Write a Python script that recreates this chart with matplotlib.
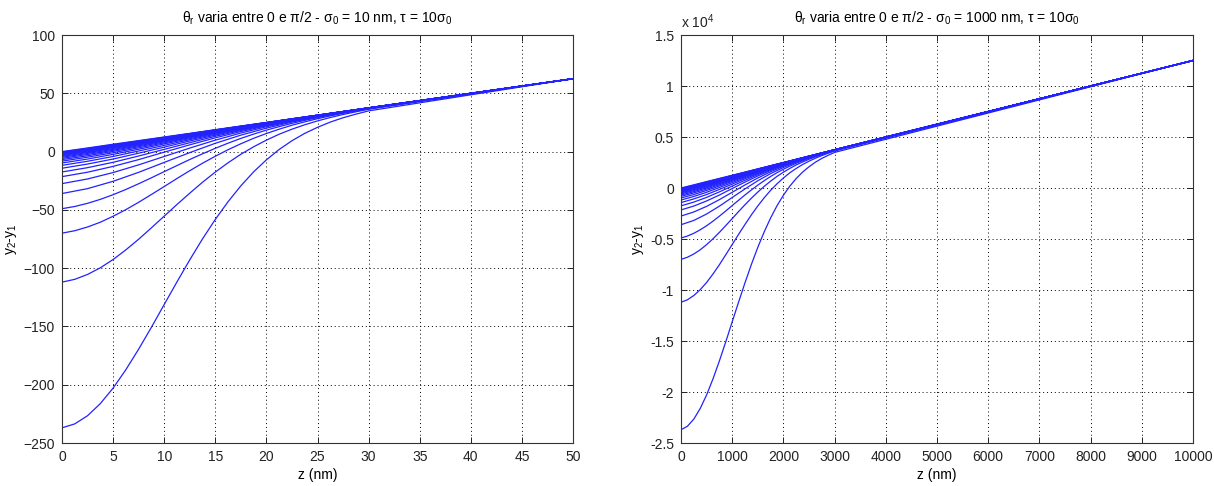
import matplotlib.pyplot as plt

plt.rcParams['font.family'] = ['Liberation Sans', 'DejaVu Sans']
plt.rcParams['mathtext.fontset'] = 'custom'
plt.rcParams['mathtext.rm'] = 'Liberation Sans'
plt.rcParams['mathtext.it'] = 'Liberation Sans:italic'

# left panel: sigma0 = 10 nm, z in nm
# the four deepest curves, read on a finer z step
z_left_fine = [0, 1.25, 2.5, 3.75, 5, 6.25, 7.5, 8.75, 10, 11.25, 12.5, 13.75, 15,
               16.25, 17.5, 18.75, 20, 21.25, 22.5, 23.75, 25, 26.25, 27.5, 28.75, 30, 50]
y_left_fine = [
    [-237.0, -233.6, -226.6, -216.2, -202.9, -187.1, -169.5, -150.7, -131.2, -111.8, -92.9, -74.9, -58.2,
     -43.0, -29.4, -17.4, -7.1, 1.8, 9.3, 15.6, 20.8, 25.3, 29.0, 32.1, 34.9, 62.5],
    [-112.0, -109.6, -105.4, -99.7, -92.6, -84.3, -75.2, -65.4, -55.4, -45.4, -35.7, -26.3, -17.6,
     -9.6, -2.3, 4.1, 9.8, 14.9, 19.2, 23.0, 26.3, 29.2, 31.8, 34.1, 36.3, 62.5],
    [-70.0, -67.9, -64.7, -60.6, -55.5, -49.8, -43.5, -36.8, -30.0, -23.1, -16.4, -10.0, -4.0,
     1.6, 6.7, 11.4, 15.5, 19.2, 22.6, 25.5, 28.2, 30.6, 32.8, 34.8, 36.7, 62.5],
    [-49.0, -47.1, -44.4, -41.0, -37.0, -32.5, -27.6, -22.5, -17.2, -12.0, -6.8, -1.9, 2.8,
     7.2, 11.3, 15.0, 18.4, 21.4, 24.2, 26.8, 29.1, 31.3, 33.3, 35.1, 37.0, 62.5],
]
z_left = [0, 2.5, 5, 7.5, 10, 12.5, 15, 17.5, 20, 22.5, 25, 27.5, 30, 50]
y_left = [
    [-36.0, -31.8, -25.5, -17.8, -9.3, -0.9, 7.1, 14.1, 20.1, 25.3, 29.7, 33.6, 37.1, 62.5],
    [-27.5, -23.5, -18.0, -11.4, -4.2, 3.0, 9.8, 15.9, 21.3, 25.9, 30.0, 33.7, 37.2, 62.5],
    [-21.5, -17.7, -12.7, -6.9, -0.5, 5.8, 11.8, 17.2, 22.1, 26.4, 30.3, 33.9, 37.3, 62.5],
    [-17.5, -13.8, -9.2, -3.8, 1.9, 7.6, 13.1, 18.1, 22.6, 26.7, 30.5, 34.0, 37.3, 62.5],
    [-14.3, -10.7, -6.4, -1.4, 3.8, 9.1, 14.1, 18.8, 23.1, 27.0, 30.6, 34.0, 37.3, 62.5],
    [-11.8, -8.3, -4.2, 0.5, 5.3, 10.2, 14.9, 19.3, 23.4, 27.2, 30.7, 34.1, 37.4, 62.5],
    [-9.8, -6.4, -2.4, 2.0, 6.6, 11.1, 15.6, 19.8, 23.7, 27.3, 30.8, 34.2, 37.4, 62.5],
    [-8.2, -4.8, -1.0, 3.2, 7.5, 11.9, 16.1, 20.1, 23.9, 27.5, 30.9, 34.2, 37.4, 62.5],
    [-6.9, -3.6, 0.2, 4.2, 8.3, 12.5, 16.5, 20.4, 24.1, 27.6, 30.9, 34.2, 37.4, 62.5],
    [-5.8, -2.5, 1.1, 5.0, 9.0, 13.0, 16.9, 20.6, 24.2, 27.7, 31.0, 34.2, 37.4, 62.5],
    [-4.9, -1.6, 1.9, 5.7, 9.5, 13.4, 17.2, 20.8, 24.3, 27.7, 31.0, 34.3, 37.4, 62.5],
    [-4.1, -0.8, 2.6, 6.3, 10.0, 13.7, 17.4, 21.0, 24.4, 27.8, 31.1, 34.3, 37.5, 62.5],
    [-3.4, -0.2, 3.3, 6.8, 10.4, 14.1, 17.6, 21.1, 24.5, 27.9, 31.1, 34.3, 37.5, 62.5],
    [-2.8, 0.4, 3.8, 7.3, 10.8, 14.3, 17.8, 21.3, 24.6, 27.9, 31.1, 34.3, 37.5, 62.5],
    [-2.2, 1.0, 4.3, 7.7, 11.2, 14.6, 18.0, 21.4, 24.7, 27.9, 31.2, 34.3, 37.5, 62.5],
    [-1.7, 1.5, 4.8, 8.1, 11.5, 14.8, 18.2, 21.5, 24.8, 28.0, 31.2, 34.3, 37.5, 62.5],
    [-1.2, 2.0, 5.2, 8.5, 11.8, 15.1, 18.4, 21.6, 24.8, 28.0, 31.2, 34.3, 37.5, 62.5],
    [-0.8, 2.3, 5.5, 8.8, 12.0, 15.3, 18.5, 21.7, 24.9, 28.1, 31.2, 34.4, 37.5, 62.5],
    [-0.4, 2.7, 5.9, 9.1, 12.3, 15.4, 18.6, 21.8, 24.9, 28.1, 31.2, 34.4, 37.5, 62.5],
    [0.0, 3.1, 6.3, 9.4, 12.5, 15.6, 18.8, 21.9, 25.0, 28.1, 31.3, 34.4, 37.5, 62.5],
]

# right panel: sigma0 = 1000 nm, z in nm, y in units of 1e4
z_right_fine = [0, 125, 250, 375, 500, 625, 750, 875, 1000, 1125, 1250, 1375, 1500,
                1625, 1750, 1875, 2000, 2125, 2250, 2375, 2500, 2625, 2750, 2875, 3000, 10000]
y_right_fine = [
    [-2.370, -2.336, -2.266, -2.162, -2.029, -1.871, -1.695, -1.507, -1.312, -1.118, -0.929, -0.749, -0.582,
     -0.430, -0.294, -0.174, -0.071, 0.018, 0.093, 0.156, 0.208, 0.253, 0.290, 0.321, 0.349, 1.25],
    [-1.120, -1.096, -1.054, -0.997, -0.926, -0.843, -0.752, -0.654, -0.554, -0.454, -0.357, -0.263, -0.176,
     -0.096, -0.023, 0.041, 0.098, 0.149, 0.192, 0.230, 0.263, 0.292, 0.318, 0.341, 0.363, 1.25],
    [-0.700, -0.679, -0.647, -0.606, -0.555, -0.498, -0.435, -0.368, -0.300, -0.231, -0.164, -0.100, -0.040,
     0.016, 0.067, 0.114, 0.155, 0.192, 0.226, 0.255, 0.282, 0.306, 0.328, 0.348, 0.367, 1.25],
    [-0.490, -0.471, -0.444, -0.410, -0.370, -0.325, -0.276, -0.225, -0.172, -0.120, -0.068, -0.019, 0.028,
     0.072, 0.113, 0.150, 0.184, 0.214, 0.242, 0.268, 0.291, 0.313, 0.333, 0.351, 0.370, 1.25],
]
z_right = [0, 250, 500, 750, 1000, 1250, 1500, 1750, 2000, 2250, 2500, 2750, 3000, 10000]
y_right = [
    [-0.360, -0.318, -0.255, -0.178, -0.093, -0.009, 0.071, 0.141, 0.201, 0.253, 0.297, 0.336, 0.371, 1.25],
    [-0.275, -0.235, -0.180, -0.114, -0.042, 0.030, 0.098, 0.159, 0.213, 0.259, 0.300, 0.337, 0.372, 1.25],
    [-0.215, -0.177, -0.127, -0.069, -0.005, 0.058, 0.118, 0.172, 0.221, 0.264, 0.303, 0.339, 0.373, 1.25],
    [-0.175, -0.138, -0.092, -0.038, 0.019, 0.076, 0.131, 0.181, 0.226, 0.267, 0.305, 0.340, 0.373, 1.25],
    [-0.143, -0.107, -0.064, -0.014, 0.038, 0.091, 0.141, 0.188, 0.231, 0.270, 0.306, 0.340, 0.373, 1.25],
    [-0.118, -0.083, -0.042, 0.005, 0.053, 0.102, 0.149, 0.193, 0.234, 0.272, 0.307, 0.341, 0.374, 1.25],
    [-0.098, -0.064, -0.024, 0.020, 0.066, 0.111, 0.156, 0.198, 0.237, 0.273, 0.308, 0.342, 0.374, 1.25],
    [-0.082, -0.048, -0.010, 0.032, 0.075, 0.119, 0.161, 0.201, 0.239, 0.275, 0.309, 0.342, 0.374, 1.25],
    [-0.069, -0.036, 0.002, 0.042, 0.083, 0.125, 0.165, 0.204, 0.241, 0.276, 0.309, 0.342, 0.374, 1.25],
    [-0.058, -0.025, 0.011, 0.050, 0.090, 0.130, 0.169, 0.206, 0.242, 0.277, 0.310, 0.342, 0.374, 1.25],
    [-0.049, -0.016, 0.019, 0.057, 0.095, 0.134, 0.172, 0.208, 0.243, 0.277, 0.310, 0.343, 0.374, 1.25],
    [-0.041, -0.008, 0.026, 0.063, 0.100, 0.137, 0.174, 0.210, 0.244, 0.278, 0.311, 0.343, 0.375, 1.25],
    [-0.034, -0.002, 0.033, 0.068, 0.104, 0.141, 0.176, 0.211, 0.245, 0.279, 0.311, 0.343, 0.375, 1.25],
    [-0.028, 0.004, 0.038, 0.073, 0.108, 0.143, 0.178, 0.213, 0.246, 0.279, 0.311, 0.343, 0.375, 1.25],
    [-0.022, 0.010, 0.043, 0.077, 0.112, 0.146, 0.180, 0.214, 0.247, 0.279, 0.312, 0.343, 0.375, 1.25],
    [-0.017, 0.015, 0.048, 0.081, 0.115, 0.148, 0.182, 0.215, 0.248, 0.280, 0.312, 0.343, 0.375, 1.25],
    [-0.012, 0.020, 0.052, 0.085, 0.118, 0.151, 0.184, 0.216, 0.248, 0.280, 0.312, 0.343, 0.375, 1.25],
    [-0.008, 0.023, 0.055, 0.088, 0.120, 0.153, 0.185, 0.217, 0.249, 0.281, 0.312, 0.344, 0.375, 1.25],
    [-0.004, 0.027, 0.059, 0.091, 0.123, 0.154, 0.186, 0.218, 0.249, 0.281, 0.312, 0.344, 0.375, 1.25],
    [0.000, 0.031, 0.063, 0.094, 0.125, 0.156, 0.188, 0.219, 0.250, 0.281, 0.313, 0.344, 0.375, 1.25],
]

left_xticks = [0, 5, 10, 15, 20, 25, 30, 35, 40, 45, 50]
left_yticks = [-250, -200, -150, -100, -50, 0, 50, 100]
right_xticks = [0, 1000, 2000, 3000, 4000, 5000, 6000, 7000, 8000, 9000, 10000]
right_yticks = [-2.5, -2, -1.5, -1, -0.5, 0, 0.5, 1, 1.5]
right_yticklabels = ['-2.5', '-2', '-1.5', '-1', '-0.5', '0', '0.5', '1', '1.5']

title_left = r'θ$_\mathrm{r}$ varia entre 0 e π/2 - σ$_0$ = 10 nm, τ = 10σ$_0$'
title_right = r'θ$_\mathrm{r}$ varia entre 0 e π/2 - σ$_0$ = 1000 nm, τ = 10σ$_0$'

line_color = '#2222ff'
fs = 10

fig = plt.figure(figsize=(12.14, 4.86), dpi=100)
ax1 = fig.add_axes([62 / 1214, 1 - 443 / 486, (573 - 62) / 1214, 408 / 486])
ax2 = fig.add_axes([681 / 1214, 1 - 443 / 486, (1193 - 681) / 1214, 408 / 486])


def style(ax):
    ax.grid(True, linestyle=(0, (1, 3)), color='black', linewidth=0.7)
    ax.tick_params(direction='in', top=True, right=True, length=4, width=0.7,
                   labelsize=fs, pad=5, colors='#222222')
    for s in ax.spines.values():
        s.set_color('#333333')
        s.set_linewidth(0.8)


for row in y_left_fine:
    ax1.plot(z_left_fine, row, color=line_color, linewidth=0.9)
for row in y_left:
    ax1.plot(z_left, row, color=line_color, linewidth=0.9)
ax1.set_xlim(0, 50)
ax1.set_ylim(-250, 100)
ax1.set_xticks(left_xticks)
ax1.set_yticks(left_yticks)
ax1.set_title(title_left, fontsize=fs, pad=9)
ax1.set_xlabel('z (nm)', fontsize=fs, labelpad=3)
ax1.set_ylabel('y$_2$-y$_1$', fontsize=fs, labelpad=3)
style(ax1)

for row in y_right_fine:
    ax2.plot(z_right_fine, row, color=line_color, linewidth=0.9)
for row in y_right:
    ax2.plot(z_right, row, color=line_color, linewidth=0.9)
ax2.set_xlim(0, 10000)
ax2.set_ylim(-2.5, 1.5)
ax2.set_xticks(right_xticks)
ax2.set_yticks(right_yticks)
ax2.set_yticklabels(right_yticklabels)
ax2.set_title(title_right, fontsize=fs, pad=9)
ax2.set_xlabel('z (nm)', fontsize=fs, labelpad=3)
ax2.set_ylabel('y$_2$-y$_1$', fontsize=fs, labelpad=3)
ax2.text(0, 1.01, r'x 10$^4$', transform=ax2.transAxes, fontsize=fs,
         ha='left', va='bottom', color='#222222')
style(ax2)

fig.savefig('out.png', dpi=100)
